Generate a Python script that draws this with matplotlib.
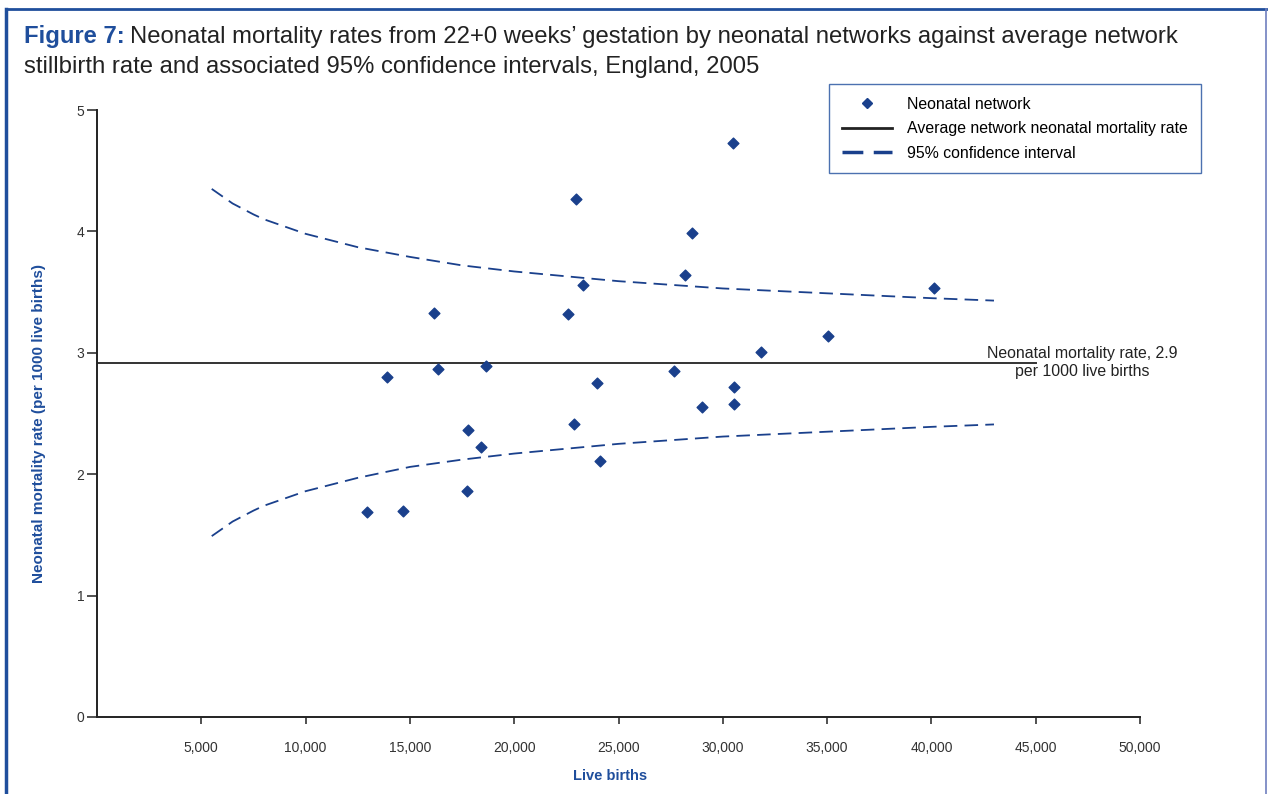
import matplotlib.pyplot as plt
from matplotlib.lines import Line2D
from matplotlib.ticker import FuncFormatter

plt.rcParams['font.family'] = ['Liberation Sans', 'DejaVu Sans']

# neonatal networks: live births and neonatal mortality rate (per 1000 live births)
births = [12950, 14670, 13900, 16150, 16340, 17780, 17730, 18400, 18640,
          22560, 22850, 22940, 23280, 23950, 24090, 27680, 28200, 28540,
          29020, 30500, 30550, 30550, 31840, 35050, 40120]
rates = [1.69, 1.70, 2.80, 3.33, 2.87, 2.36, 1.86, 2.22, 2.89,
         3.32, 2.41, 4.27, 3.56, 2.75, 2.11, 2.85, 3.64, 3.99,
         2.55, 4.73, 2.72, 2.58, 3.01, 3.14, 3.53]

avg_rate = 2.92
avg_x = [0, 45000]

# 95% confidence limits
ci_x = [5500, 6000, 6500, 7500, 8000, 9000, 10000, 12500, 15000, 17500,
        20000, 22500, 25000, 27500, 30000, 32500, 35000, 37500, 40000, 43000]
ci_upper = [4.35, 4.29, 4.23, 4.14, 4.10, 4.04, 3.98, 3.87, 3.79, 3.72,
            3.67, 3.63, 3.59, 3.56, 3.53, 3.51, 3.49, 3.47, 3.45, 3.43]
ci_lower = [1.49, 1.55, 1.61, 1.70, 1.74, 1.80, 1.86, 1.97, 2.06, 2.12,
            2.17, 2.21, 2.25, 2.28, 2.31, 2.33, 2.35, 2.37, 2.39, 2.41]

blue = '#1a408c'
label_blue = '#1f4e9c'

fig = plt.figure(figsize=(12.68, 7.94), dpi=100)
ax = fig.add_axes([97 / 1268, 1 - 717 / 794, (1140 - 97) / 1268, (717 - 110) / 794])

ax.plot(avg_x, [avg_rate, avg_rate], color='#333333', lw=1.4)
ax.plot(ci_x, ci_upper, color=blue, lw=1.3, dashes=(7.5, 4))
ax.plot(ci_x, ci_lower, color=blue, lw=1.3, dashes=(7.5, 4))
ax.scatter(births, rates, marker='D', s=30, color=blue, zorder=3)

ax.set_xlim(0, 50000)
ax.set_ylim(0, 5)
ax.set_xticks(range(5000, 50001, 5000))
ax.set_yticks(range(0, 6))
ax.xaxis.set_major_formatter(FuncFormatter(lambda v, p: f'{int(v):,}'))
ax.tick_params(axis='x', direction='out', length=5, width=1.2, labelsize=10, colors='#333333', pad=12)
ax.tick_params(axis='y', direction='out', length=7, width=1.2, labelsize=10, colors='#333333', pad=2)
for side in ['top', 'right']:
    ax.spines[side].set_visible(False)
for side in ['left', 'bottom']:
    ax.spines[side].set_linewidth(1.4)
    ax.spines[side].set_color('#222222')

ax.set_xlabel('Live births', fontsize=10.5, fontweight='bold', color=label_blue)
ax.xaxis.set_label_coords(0.492, -0.097)
ax.xaxis.label.set_va('center')
ax.set_ylabel('Neonatal mortality rate (per 1000 live births)', fontsize=11,
              fontweight='bold', color=label_blue)
ax.yaxis.set_label_coords(-0.0556, 0.483)
ax.yaxis.label.set_va('center')

ax.text(47250, avg_rate, 'Neonatal mortality rate, 2.9\nper 1000 live births',
        ha='center', va='center', fontsize=11.4, color='#222222', linespacing=1.25)

handles = [
    Line2D([], [], marker='D', color=blue, linestyle='none', markersize=5),
    Line2D([], [], color='#222222', lw=2),
    Line2D([], [], color=blue, lw=2.5, dashes=(6, 3)),
]
labels = ['Neonatal network', 'Average network neonatal mortality rate', '95% confidence interval']
leg = ax.legend(handles, labels, loc='upper left', bbox_to_anchor=(829 / 1268, 1 - 84 / 794),
                bbox_transform=fig.transFigure, fontsize=11.4, frameon=True, fancybox=False,
                handlelength=3.2, handletextpad=0.95, borderpad=0.8, labelspacing=0.6,
                borderaxespad=0)
leg.get_frame().set_edgecolor(label_blue)
leg.get_frame().set_linewidth(1.0)

# figure frame
fig.add_artist(Line2D([6 / 1268, 6 / 1268], [0, 1 - 9 / 794], transform=fig.transFigure,
                      color=label_blue, lw=2.5))
fig.add_artist(Line2D([6 / 1268, 1266 / 1268], [1 - 9 / 794, 1 - 9 / 794], transform=fig.transFigure,
                      color=label_blue, lw=2))
fig.add_artist(Line2D([1266 / 1268, 1266 / 1268], [0, 1 - 9 / 794], transform=fig.transFigure,
                      color='#6f7fbf', lw=1.2))

# title: bold blue prefix followed by regular text
t1 = fig.text(24 / 1268, 1 - 37 / 794, 'Figure 7:', fontsize=17.2, fontweight='bold',
              color=label_blue, va='center')
fig.canvas.draw()
bb = t1.get_window_extent(fig.canvas.get_renderer())
fig.text((bb.x1 + 5) / 1268, 1 - 37 / 794,
         'Neonatal mortality rates from 22+0 weeks\u2019 gestation by neonatal networks against average network',
         fontsize=17.2, color='#222222', va='center')
fig.text(24 / 1268, 1 - 67 / 794, 'stillbirth rate and associated 95% confidence intervals, England, 2005',
         fontsize=17.2, color='#222222', va='center')

fig.savefig('out.png', dpi=100)
